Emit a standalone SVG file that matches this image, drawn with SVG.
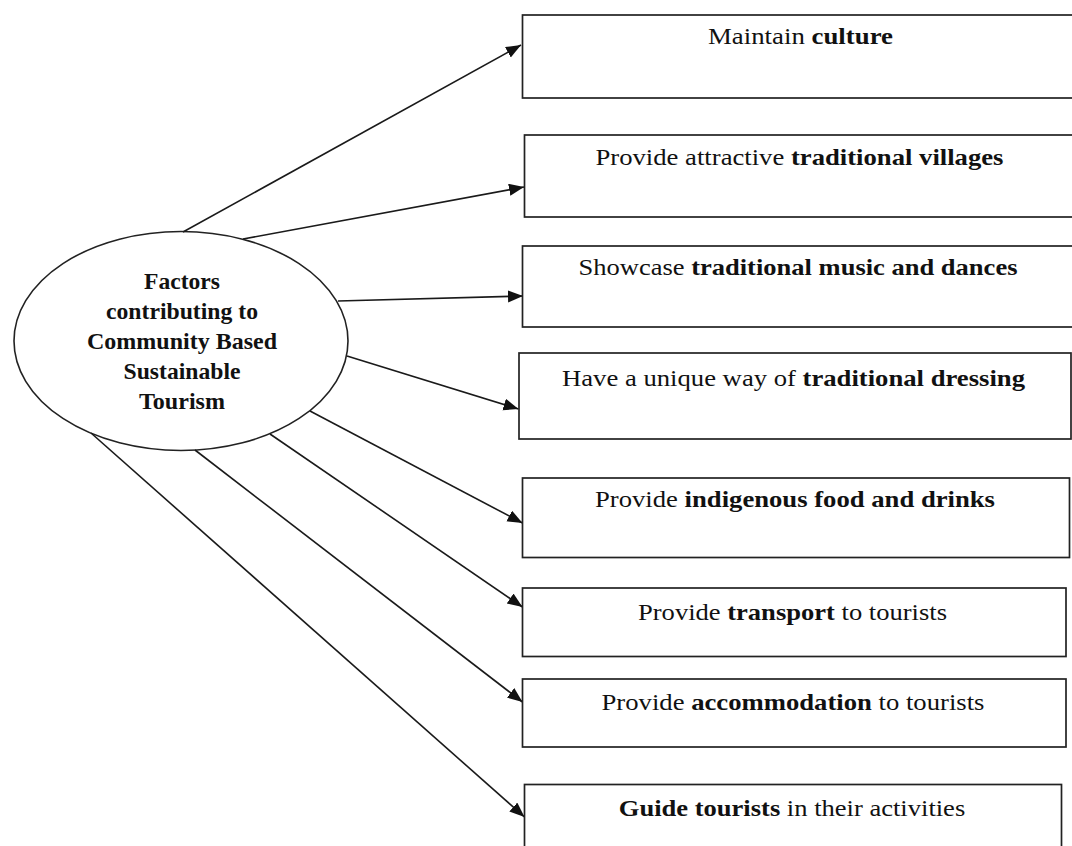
<svg xmlns="http://www.w3.org/2000/svg" width="1072" height="846" viewBox="0 0 1072 846">
<style>
.box{fill:#fff;stroke:#222;stroke-width:1.7}
.ell{fill:#fff;stroke:#222;stroke-width:1.6}
.bt{font-family:"Liberation Serif","Times New Roman",serif;font-size:23px;fill:#111;text-anchor:middle}
.et{font-family:"Liberation Serif","Times New Roman",serif;font-size:22.5px;font-weight:bold;fill:#111;text-anchor:middle}
.b{font-weight:bold}
.con line{stroke:#1a1a1a;stroke-width:1.6;marker-end:url(#ah)}
</style>
<defs>
<marker id="ah" markerUnits="userSpaceOnUse" markerWidth="16" markerHeight="13" refX="15" refY="6" orient="auto">
<path d="M0,0 L15,6 L0,12 z" fill="#111"/>
</marker>
</defs>
<rect width="1072" height="846" fill="#fff"/>
<g id="center">
<ellipse class="ell" cx="181" cy="341" rx="167" ry="109.5"/>
<text class="et" x="182" y="289" textLength="76" lengthAdjust="spacingAndGlyphs">Factors</text>
<text class="et" x="182" y="319" textLength="152" lengthAdjust="spacingAndGlyphs">contributing to</text>
<text class="et" x="182" y="349" textLength="190" lengthAdjust="spacingAndGlyphs">Community Based</text>
<text class="et" x="182" y="379" textLength="117" lengthAdjust="spacingAndGlyphs">Sustainable</text>
<text class="et" x="182" y="409" textLength="86" lengthAdjust="spacingAndGlyphs">Tourism</text>
</g>
<g id="connectors" class="con">
<line x1="183" y1="232" x2="521" y2="45"/>
<line x1="243" y1="239" x2="524" y2="187"/>
<line x1="338" y1="301" x2="523" y2="296"/>
<line x1="347" y1="356" x2="518.5" y2="409"/>
<line x1="310" y1="411" x2="522.5" y2="523"/>
<line x1="270" y1="434" x2="522.5" y2="607"/>
<line x1="195" y1="450" x2="522.5" y2="702"/>
<line x1="91" y1="433" x2="524.5" y2="817"/>
</g>
<g id="box1">
<rect class="box" x="522.5" y="15" width="560" height="83"/>
<text class="bt" x="800.5" y="44" textLength="185" lengthAdjust="spacingAndGlyphs">Maintain <tspan class="b">culture</tspan></text>
</g>
<g id="box2">
<rect class="box" x="524.5" y="135" width="560" height="82"/>
<text class="bt" x="799.5" y="165" textLength="408" lengthAdjust="spacingAndGlyphs">Provide attractive <tspan class="b">traditional villages</tspan></text>
</g>
<g id="box3">
<rect class="box" x="522.5" y="246" width="560" height="81"/>
<text class="bt" x="798" y="275" textLength="439" lengthAdjust="spacingAndGlyphs">Showcase <tspan class="b">traditional music and dances</tspan></text>
</g>
<g id="box4">
<rect class="box" x="519" y="353" width="552" height="86"/>
<text class="bt" x="793.5" y="386" textLength="463" lengthAdjust="spacingAndGlyphs">Have a unique way of <tspan class="b">traditional dressing</tspan></text>
</g>
<g id="box5">
<rect class="box" x="522.5" y="478" width="547" height="79.5"/>
<text class="bt" x="795" y="507" textLength="400" lengthAdjust="spacingAndGlyphs">Provide <tspan class="b">indigenous food and drinks</tspan></text>
</g>
<g id="box6">
<rect class="box" x="522.5" y="588" width="543.5" height="68.5"/>
<text class="bt" x="792.5" y="620" textLength="309" lengthAdjust="spacingAndGlyphs">Provide <tspan class="b">transport</tspan> to tourists</text>
</g>
<g id="box7">
<rect class="box" x="522.5" y="679" width="543.5" height="68"/>
<text class="bt" x="793" y="710" textLength="383" lengthAdjust="spacingAndGlyphs">Provide <tspan class="b">accommodation</tspan> to tourists</text>
</g>
<g id="box8">
<rect class="box" x="524.5" y="784.5" width="537" height="80"/>
<text class="bt" x="792" y="816" textLength="346.5" lengthAdjust="spacingAndGlyphs"><tspan class="b">Guide tourists</tspan> in their activities</text>
</g>
</svg>
